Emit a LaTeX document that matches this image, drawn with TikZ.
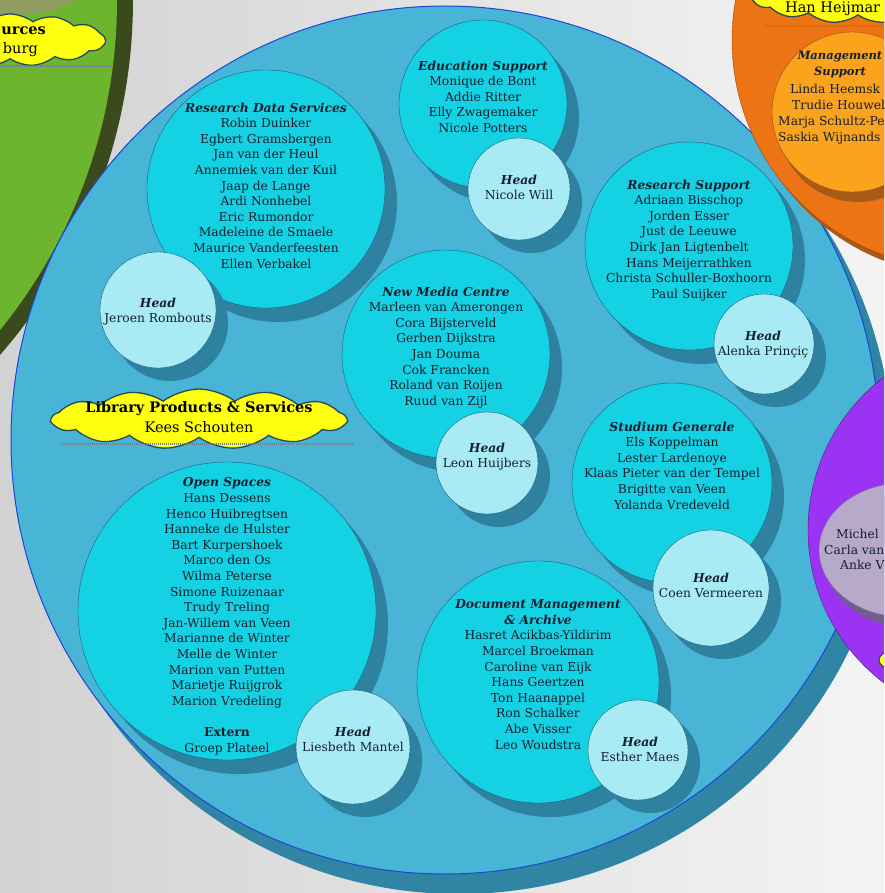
\documentclass[tikz,border=0pt]{standalone}
\usepackage{fontspec}
\setmainfont{DejaVu Serif}
\usetikzlibrary{shapes.symbols,shadows}
\definecolor{bgleft}{HTML}{D2D2D2}
\definecolor{bgright}{HTML}{F4F4F4}
\definecolor{greenrim}{HTML}{3B4A1C}
\definecolor{greenfill}{HTML}{6DB52E}
\definecolor{olivegrey}{HTML}{8F9D62}
\definecolor{orangefill}{HTML}{EC7414}
\definecolor{orangerim}{HTML}{9A4A0E}
\definecolor{orangeinner}{HTML}{FBA31D}
\definecolor{orangeshade}{HTML}{A85A18}
\definecolor{bluefill}{HTML}{48B4D6}
\definecolor{blueshade}{HTML}{2F85A3}
\definecolor{blueline}{HTML}{1C46D6}
\definecolor{teamfill}{HTML}{14D2E4}
\definecolor{teamshade}{HTML}{2E82A0}
\definecolor{teamline}{HTML}{1D5F78}
\definecolor{headfill}{HTML}{A8EBF4}
\definecolor{purplefill}{HTML}{9A34F2}
\definecolor{purpleline}{HTML}{4A1A80}
\definecolor{lavender}{HTML}{B7A9C9}
\definecolor{lavshade}{HTML}{6F5F8A}
\definecolor{cloudfill}{HTML}{FFFF10}
\definecolor{cloudline}{HTML}{27485A}
\definecolor{dotgrey}{HTML}{6D7F8C}
\definecolor{ink}{HTML}{14202E}

\begin{document}
\begin{tikzpicture}[x=1pt, y=-1pt,
  team/.style={circle, draw=teamline, fill=teamfill, inner sep=0pt,
    drop shadow={shadow xshift=12pt, shadow yshift=-14pt, fill=teamshade, opacity=1}},
  head/.style={circle, draw=teamline, fill=headfill, inner sep=0pt,
    drop shadow={shadow xshift=12pt, shadow yshift=-13pt, fill=teamshade, opacity=1}},
  staff/.style={align=center, inner sep=0pt, text=ink, font=\fontsize{12.3}{15.6}\selectfont},
  banner/.style={cloud, cloud puffs=13, cloud puff arc=75, cloud ignores aspect,
    draw=cloudline, fill=cloudfill, line width=1.3pt, inner sep=0pt},
  bannertext/.style={align=center, inner sep=0pt, text=black, font=\fontsize{14.5}{20}\selectfont},
  cloudshadow/.style={draw=dotgrey, line width=2pt, dash pattern=on 1pt off 1pt}]
  \useasboundingbox (0,0) rectangle (884,893);
  \clip (0,0) rectangle (884,893);
  \shade[left color=bgleft, right color=bgright] (0,0) rectangle (884,893);

  \fill[greenrim] (-407,0) circle (540);
  \fill[greenfill] (-407,0) circle (524);
  \fill[olivegrey] (10,-10) ellipse [x radius=70, y radius=25];
  \node[banner, minimum width=190, minimum height=52] (HRCloud) at (10,40) {};
  \node[bannertext, anchor=base east] (HRTitle) at (46,35) {\textbf{urces}};
  \node[bannertext, anchor=base east] (HRHead) at (38,54) {burg};
  \draw[cloudshadow] (0,66) -- (112,66);

  \node[circle, minimum size=868, inner sep=0pt, fill=bluefill, draw=blueline, line width=1pt,
    drop shadow={shadow xshift=14pt, shadow yshift=-20pt, fill=blueshade, opacity=1}] (Library) at (445,440) {};

  \fill[orangeshade] (966,48) circle (228);
  \filldraw[fill=orangefill, draw=orangerim] (960,40) circle (228);
  \node[circle, minimum size=160, inner sep=0pt, fill=orangeinner, draw=orangerim,
    drop shadow={shadow xshift=6pt, shadow yshift=-10pt, fill=orangeshade, opacity=1}] (MS) at (852,112) {};
  \node[staff, anchor=north, font=\fontsize{11.5}{15.6}\selectfont] (MSTitle) at (840,51) {\textbf{\textit{Management}}\\\textbf{\textit{Support}}};
  \node[staff, anchor=base west] (MSa) at (790,93.5) {Linda Heemsk};
  \node[staff, anchor=base west] (MSb) at (792,109.5) {Trudie Houwel};
  \node[staff, anchor=base west] (MSc) at (778,125.5) {Marja Schultz-Pe};
  \node[staff, anchor=base west] (MSd) at (778,141.5) {Saskia Wijnands};
  \node[banner, minimum width=210, minimum height=52] (LISCloud) at (858,-3) {};
  \node[bannertext, anchor=base west] (LISHead) at (785,13) {Han Heijmar};
  \draw[cloudshadow] (765,26) -- (884,26);

  \node[team, minimum size=238] (RDS) at (266,189) {};
  \node[staff, anchor=north] (RDSStaff) at (266,102.5) {\textbf{\textit{Research Data Services}}\\Robin Duinker\\Egbert Gramsbergen\\Jan van der Heul\\Annemiek van der Kuil\\Jaap de Lange\\Ardi Nonhebel\\Eric Rumondor\\Madeleine de Smaele\\Maurice Vanderfeesten\\Ellen Verbakel};
  \node[head, minimum size=116] (RDSHead) at (158,310) {};
  \node[staff, anchor=north] (RDSHeadName) at (158,297.5) {\textbf{\textit{Head}}\\Jeroen Rombouts};

  \node[team, minimum size=168] (EDU) at (483,104) {};
  \node[staff, anchor=north] (EDUStaff) at (483,60.5) {\textbf{\textit{Education Support}}\\Monique de Bont\\Addie Ritter\\Elly Zwagemaker\\Nicole Potters};
  \node[head, minimum size=102] (EDUHead) at (519,189) {};
  \node[staff, anchor=north] (EDUHeadName) at (519,174.5) {\textbf{\textit{Head}}\\Nicole Will};

  \node[team, minimum size=208] (RS) at (689,246) {};
  \node[staff, anchor=north] (RSStaff) at (689,179.5) {\textbf{\textit{Research Support}}\\Adriaan Bisschop\\Jorden Esser\\Just de Leeuwe\\Dirk Jan Ligtenbelt\\Hans Meijerrathken\\Christa Schuller-Boxhoorn\\Paul Suijker};
  \node[head, minimum size=100] (RSHead) at (764,344) {};
  \node[staff, anchor=north] (RSHeadName) at (763,330.5) {\textbf{\textit{Head}}\\Alenka Prinçiç};

  \node[team, minimum size=208] (NMC) at (446,354) {};
  \node[staff, anchor=north] (NMCStaff) at (446,286.5) {\textbf{\textit{New Media Centre}}\\Marleen van Amerongen\\Cora Bijsterveld\\Gerben Dijkstra\\Jan Douma\\Cok Francken\\Roland van Roijen\\Ruud van Zijl};
  \node[head, minimum size=102] (NMCHead) at (487,463) {};
  \node[staff, anchor=north] (NMCHeadName) at (487,442.5) {\textbf{\textit{Head}}\\Leon Huijbers};

  \node[team, minimum size=200] (SG) at (672,483) {};
  \node[staff, anchor=north] (SGStaff) at (672,421.5) {\textbf{\textit{Studium Generale}}\\Els Koppelman\\Lester Lardenoye\\Klaas Pieter van der Tempel\\Brigitte van Veen\\Yolanda Vredeveld};
  \node[head, minimum size=116] (SGHead) at (711,588) {};
  \node[staff, anchor=north] (SGHeadName) at (711,572.5) {\textbf{\textit{Head}}\\Coen Vermeeren};

  \node[team, minimum size=298] (OS) at (227,611) {};
  \node[staff, anchor=north] (OSStaff) at (227,477.5) {\textbf{\textit{Open Spaces}}\\Hans Dessens\\Henco Huibregtsen\\Hanneke de Hulster\\Bart Kurpershoek\\Marco den Os\\Wilma Peterse\\Simone Ruizenaar\\Trudy Treling\\Jan-Willem van Veen\\Marianne de Winter\\Melle de Winter\\Marion van Putten\\Marietje Ruijgrok\\Marion Vredeling\\[15.6pt]\textbf{Extern}\\Groep Plateel};
  \node[head, minimum size=114] (OSHead) at (353,747) {};
  \node[staff, anchor=north] (OSHeadName) at (353,726.5) {\textbf{\textit{Head}}\\Liesbeth Mantel};

  \node[team, minimum size=242] (DMA) at (538,682) {};
  \node[staff, anchor=north] (DMAStaff) at (538,599.5) {\textbf{\textit{Document Management}}\\\textbf{\textit{\& Archive}}\\Hasret Acikbas-Yildirim\\Marcel Broekman\\Caroline van Eijk\\Hans Geertzen\\Ton Haanappel\\Ron Schalker\\Abe Visser\\Leo Woudstra};
  \node[head, minimum size=100] (DMAHead) at (638,750) {};
  \node[staff, anchor=north] (DMAHeadName) at (640,736.5) {\textbf{\textit{Head}}\\Esther Maes};

  \node[banner, minimum width=294, minimum height=60] (LPSCloud) at (199,419) {};
  \node[bannertext] (LPSHead) at (199,417) {\textbf{Library Products \& Services}\\Kees Schouten};
  \draw[cloudshadow] (62,444) -- (353,444);

  \filldraw[fill=purplefill, draw=purpleline] (1000,530) circle (192);
  \fill[lavshade] (910,560) ellipse [x radius=85, y radius=67];
  \filldraw[fill=lavender, draw=purpleline!70] (904,550) ellipse [x radius=85, y radius=67];
  \node[staff, anchor=base west] (LSa) at (836,538.5) {Michel};
  \node[staff, anchor=base west] (LSb) at (824,554.5) {Carla van};
  \node[staff, anchor=base west] (LSc) at (840,569.5) {Anke V};
  \filldraw[fill=cloudfill, draw=cloudline, line width=1pt] (893,660) ellipse [x radius=14, y radius=9];
\end{tikzpicture}
\end{document}
